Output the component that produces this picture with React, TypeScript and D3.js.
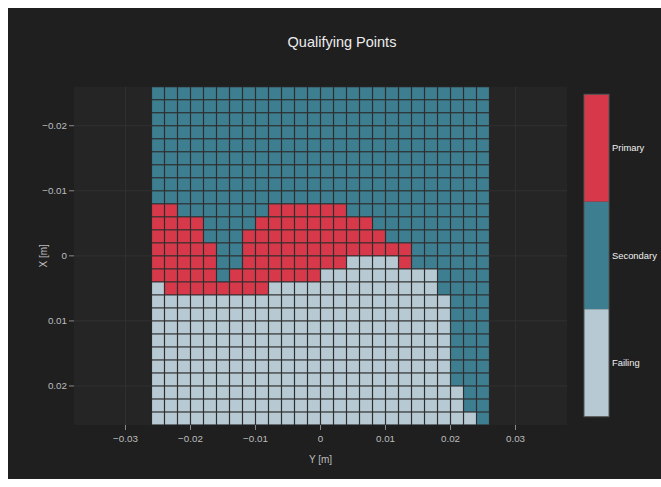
import React from 'react';
import * as d3 from 'd3';

// category codes used in the grid: 0 = Failing, 1 = Secondary, 2 = Primary
const categories = ['Failing', 'Secondary', 'Primary'];
const categoryColors = ['#b7cad3', '#3d7e91', '#d8394a'];

// cell centres along Y [m] (columns, left to right)
const yCenters = [
  -0.025, -0.023, -0.021, -0.019, -0.017, -0.015, -0.013, -0.011, -0.009,
  -0.007, -0.005, -0.003, -0.001, 0.001, 0.003, 0.005, 0.007, 0.009, 0.011,
  0.013, 0.015, 0.017, 0.019, 0.021, 0.023, 0.025,
];

// cell centres along X [m] (rows, top to bottom)
const xCenters = [
  -0.025, -0.023, -0.021, -0.019, -0.017, -0.015, -0.013, -0.011, -0.009,
  -0.007, -0.005, -0.003, -0.001, 0.001, 0.003, 0.005, 0.007, 0.009, 0.011,
  0.013, 0.015, 0.017, 0.019, 0.021, 0.023, 0.025,
];

// each row as runs of [category, count]
const F = 0, S = 1, P = 2;
const rowRuns: [number, number][][] = [
  [[S, 26]],
  [[S, 26]],
  [[S, 26]],
  [[S, 26]],
  [[S, 26]],
  [[S, 26]],
  [[S, 26]],
  [[S, 26]],
  [[S, 26]],
  [[P, 2], [S, 7], [P, 6], [S, 11]],
  [[P, 4], [S, 4], [P, 9], [S, 9]],
  [[P, 4], [S, 3], [P, 11], [S, 8]],
  [[P, 5], [S, 2], [P, 13], [S, 6]],
  [[P, 5], [S, 2], [P, 8], [F, 4], [P, 1], [S, 6]],
  [[P, 5], [S, 1], [P, 7], [F, 9], [S, 4]],
  [[F, 1], [P, 8], [F, 13], [S, 4]],
  [[F, 23], [S, 3]],
  [[F, 23], [S, 3]],
  [[F, 23], [S, 3]],
  [[F, 23], [S, 3]],
  [[F, 23], [S, 3]],
  [[F, 23], [S, 3]],
  [[F, 23], [S, 3]],
  [[F, 24], [S, 2]],
  [[F, 24], [S, 2]],
  [[F, 25], [S, 1]],
];

const xTicks = [-0.03, -0.02, -0.01, 0, 0.01, 0.02, 0.03];
const xTickLabels = ['\u22120.03', '\u22120.02', '\u22120.01', '0', '0.01', '0.02', '0.03'];
const yTicks = [-0.02, -0.01, 0, 0.01, 0.02];
const yTickLabels = ['\u22120.02', '\u22120.01', '0', '0.01', '0.02'];

const W = 653;
const H = 471;
const plot = { left: 66, right: 559, top: 78.7, bottom: 417 };
const font = 'Arial, "Liberation Sans", sans-serif';

export default function App() {
  const x = d3.scaleLinear().domain([-0.03792, 0.03792]).range([plot.left, plot.right]);
  const y = d3.scaleLinear().domain([-0.026, 0.026]).range([plot.top, plot.bottom]);
  const half = 0.001;
  const gap = 1.2;

  const cells: { r: number; c: number; v: number }[] = [];
  rowRuns.forEach((runs, r) => {
    let c = 0;
    runs.forEach(([v, n]) => {
      for (let k = 0; k < n; k++) {
        cells.push({ r, c, v });
        c++;
      }
    });
  });

  const cbScale = d3.scaleBand<number>().domain([2, 1, 0]).range([86.3, 408.7]);

  return (
    <svg
      width={W}
      height={H}
      style={{ display: 'block', position: 'absolute', left: 8, top: 8, fontFamily: font }}
    >
      <rect width={W} height={H} fill="#1f1f1f" />
      <rect
        x={plot.left}
        y={plot.top}
        width={plot.right - plot.left}
        height={plot.bottom - plot.top}
        fill="#252525"
      />
      {xTicks.map((t) => (
        <line key={'gx' + t} x1={x(t)} x2={x(t)} y1={plot.top} y2={plot.bottom} stroke="#313131" />
      ))}
      {yTicks.map((t) => (
        <line key={'gy' + t} x1={plot.left} x2={plot.right} y1={y(t)} y2={y(t)} stroke="#313131" />
      ))}
      <rect
        x={x(yCenters[0] - half)}
        y={y(xCenters[0] - half)}
        width={x(yCenters[yCenters.length - 1] + half) - x(yCenters[0] - half)}
        height={y(xCenters[xCenters.length - 1] + half) - y(xCenters[0] - half)}
        fill="#2e2e2e"
      />
      {cells.map((d) => {
        const x0 = x(yCenters[d.c] - half);
        const x1 = x(yCenters[d.c] + half);
        const y0 = y(xCenters[d.r] - half);
        const y1 = y(xCenters[d.r] + half);
        return (
          <rect
            key={d.r + '-' + d.c}
            x={x0 + gap / 2}
            y={y0 + gap / 2}
            width={x1 - x0 - gap}
            height={y1 - y0 - gap}
            fill={categoryColors[d.v]}
          />
        );
      })}

      {/* x axis */}
      {xTicks.map((t, i) => (
        <g key={'xt' + t} transform={`translate(${x(t)},${plot.bottom})`}>
          <line y1={0} y2={5} stroke="#8a8a8a" />
          <text y={16.5} textAnchor="middle" fontSize={9.8} fill="#bdbdbd">
            {xTickLabels[i]}
          </text>
        </g>
      ))}
      <text x={(plot.left + plot.right) / 2} y={454.5} textAnchor="middle" fontSize={10} fill="#bdbdbd">
        Y [m]
      </text>

      {/* y axis */}
      {yTicks.map((t, i) => (
        <g key={'yt' + t} transform={`translate(${plot.left},${y(t)})`}>
          <line x1={-5} x2={0} stroke="#8a8a8a" />
          <text x={-7} dy="0.35em" textAnchor="end" fontSize={9.8} fill="#bdbdbd">
            {yTickLabels[i]}
          </text>
        </g>
      ))}
      <text
        transform={`translate(35,${(plot.top + plot.bottom) / 2}) rotate(-90)`}
        dy="0.35em"
        textAnchor="middle"
        fontSize={10}
        fill="#bdbdbd"
      >
        X [m]
      </text>

      {/* title */}
      <text x={334} y={39} textAnchor="middle" fontSize={14.5} fill="#ececec">
        Qualifying Points
      </text>

      {/* colour bar */}
      {[2, 1, 0].map((v) => (
        <g key={'cb' + v}>
          <rect x={576} y={cbScale(v)} width={25} height={cbScale.bandwidth()} fill={categoryColors[v]} />
          <text
            x={604}
            y={(cbScale(v) as number) + cbScale.bandwidth() / 2}
            dy="0.35em"
            fontSize={9.4}
            fill="#f0f0f0"
          >
            {categories[v]}
          </text>
        </g>
      ))}
      <rect x={576} y={86.3} width={25} height={322.4} fill="none" stroke="#555" />
    </svg>
  );
}
